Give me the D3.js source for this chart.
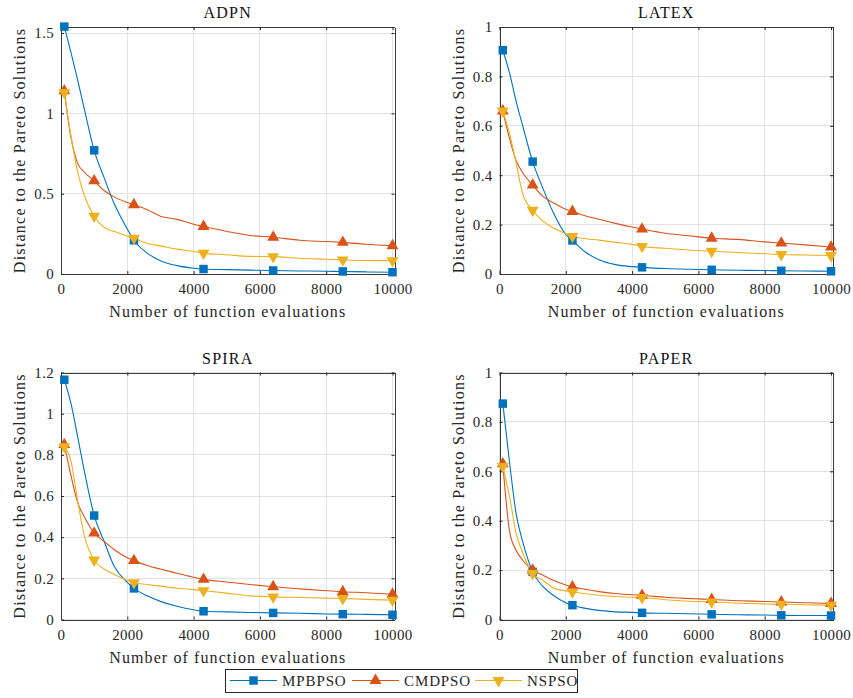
<!DOCTYPE html>
<html>
<head>
<meta charset="utf-8">
<script src="https://cdn.jsdelivr.net/npm/d3@7"></script>
<style>
  body { margin: 0; background: #fff; }
  svg text { font-family: "Liberation Serif", "DejaVu Serif", "Noto Serif", Tinos, "Times New Roman", Times, "Nimbus Roman", "Nimbus Roman No9 L", FreeSerif, "Latin Modern Roman", "CMU Serif", "STIX Two Text", Georgia, serif !important; fill: #262626; }
</style>
</head>
<body>
<div id="chart"></div>
<script>
// evaluation counts where the curves were read
const evals = [100, 300, 500, 700, 1000, 1300, 1600, 2000, 2200, 2600, 3000, 3500, 4000, 4300, 5000, 5700, 6400, 7200, 8000, 8500, 9200, 10000]
const markerEvals = [100, 1000, 2200, 4300, 6400, 8500, 10000]
const xTicks = [0, 2000, 4000, 6000, 8000, 10000]
const algorithms = ['MPBPSO', 'CMDPSO', 'NSPSO']
const colors = ['#0072BD', '#D95319', '#EDB120']

const adpnMPBPSO = [1.54, 1.38, 1.21, 1.03, 0.77, 0.6, 0.44, 0.28, 0.21, 0.13, 0.083, 0.052, 0.036, 0.031, 0.027, 0.024, 0.022, 0.019, 0.017, 0.016, 0.013, 0.011]
const adpnCMDPSO = [1.14, 0.85, 0.69, 0.635, 0.58, 0.52, 0.48, 0.445, 0.431, 0.40, 0.36, 0.34, 0.31, 0.296, 0.265, 0.24, 0.229, 0.21, 0.202, 0.197, 0.185, 0.176]
const adpnNSPSO = [1.13, 0.86, 0.64, 0.49, 0.36, 0.29, 0.265, 0.235, 0.223, 0.19, 0.175, 0.155, 0.14, 0.13, 0.12, 0.11, 0.108, 0.098, 0.092, 0.088, 0.084, 0.083]

const latexMPBPSO = [0.906, 0.815, 0.70, 0.60, 0.455, 0.35, 0.255, 0.16, 0.136, 0.088, 0.058, 0.038, 0.03, 0.027, 0.022, 0.019, 0.017, 0.015, 0.014, 0.013, 0.012, 0.011]
const latexCMDPSO = [0.66, 0.55, 0.46, 0.41, 0.36, 0.315, 0.29, 0.262, 0.253, 0.235, 0.222, 0.205, 0.19, 0.182, 0.165, 0.155, 0.145, 0.14, 0.13, 0.125, 0.118, 0.109]
const latexNSPSO = [0.66, 0.57, 0.45, 0.325, 0.258, 0.215, 0.188, 0.163, 0.152, 0.143, 0.137, 0.128, 0.12, 0.112, 0.104, 0.097, 0.092, 0.087, 0.082, 0.079, 0.077, 0.075]

const spiraMPBPSO = [1.165, 1.05, 0.89, 0.725, 0.505, 0.38, 0.26, 0.18, 0.151, 0.115, 0.088, 0.064, 0.047, 0.04, 0.037, 0.034, 0.032, 0.03, 0.027, 0.026, 0.025, 0.023]
const spiraCMDPSO = [0.85, 0.70, 0.57, 0.50, 0.42, 0.38, 0.34, 0.3, 0.286, 0.262, 0.245, 0.225, 0.205, 0.195, 0.182, 0.17, 0.159, 0.149, 0.14, 0.135, 0.13, 0.123]
const spiraNSPSO = [0.84, 0.77, 0.58, 0.41, 0.289, 0.245, 0.22, 0.19, 0.179, 0.17, 0.162, 0.152, 0.145, 0.14, 0.128, 0.115, 0.11, 0.107, 0.104, 0.102, 0.098, 0.094]

const paperMPBPSO = [0.874, 0.64, 0.43, 0.315, 0.193, 0.135, 0.1, 0.068, 0.058, 0.045, 0.037, 0.031, 0.029, 0.027, 0.025, 0.023, 0.021, 0.019, 0.018, 0.017, 0.016, 0.016]
const paperCMDPSO = [0.63, 0.36, 0.28, 0.24, 0.2, 0.18, 0.16, 0.14, 0.132, 0.122, 0.113, 0.105, 0.1, 0.098, 0.09, 0.085, 0.081, 0.076, 0.073, 0.071, 0.068, 0.065]
const paperNSPSO = [0.62, 0.5, 0.35, 0.27, 0.186, 0.16, 0.13, 0.116, 0.112, 0.104, 0.098, 0.093, 0.09, 0.089, 0.08, 0.074, 0.071, 0.066, 0.063, 0.062, 0.06, 0.058]

const panels = [
  {title: 'ADPN', yMax: 1.5375, yTicks: [0, 0.5, 1, 1.5], series: [adpnMPBPSO, adpnCMDPSO, adpnNSPSO], left: 61, top: 27},
  {title: 'LATEX', yMax: 1, yTicks: [0, 0.2, 0.4, 0.6, 0.8, 1], series: [latexMPBPSO, latexCMDPSO, latexNSPSO], left: 499.5, top: 27},
  {title: 'SPIRA', yMax: 1.2, yTicks: [0, 0.2, 0.4, 0.6, 0.8, 1, 1.2], series: [spiraMPBPSO, spiraCMDPSO, spiraNSPSO], left: 61, top: 372.5},
  {title: 'PAPER', yMax: 1, yTicks: [0, 0.2, 0.4, 0.6, 0.8, 1], series: [paperMPBPSO, paperCMDPSO, paperNSPSO], left: 499.5, top: 372.5}
]

const width = 333.5, height = 247

const svg = d3.select('#chart').append('svg')
  .attr('width', 853)
  .attr('height', 698)

function markerPath(k) {
  if (k == 0) return d3.symbol(d3.symbolSquare, 72)()
  return d3.symbol(d3.symbolTriangle, 62)()
}

panels.forEach(p => {
  let g = svg.append('g').attr('transform', 'translate(' + p.left + ',' + p.top + ')')

  let x = d3.scaleLinear().domain([0, 10060]).range([0, width])
  let y = d3.scaleLinear().domain([0, p.yMax]).range([height, 0])

  // grid
  g.append('g').selectAll('line').data(xTicks).enter().append('line')
    .attr('x1', d => x(d)).attr('x2', d => x(d))
    .attr('y1', 0).attr('y2', height)
    .attr('stroke', '#e3e3e3').attr('shape-rendering', 'crispEdges')
  g.append('g').selectAll('line').data(p.yTicks).enter().append('line')
    .attr('x1', 0).attr('x2', width)
    .attr('y1', d => y(d)).attr('y2', d => y(d))
    .attr('stroke', '#e3e3e3').attr('shape-rendering', 'crispEdges')

  // axes with inward ticks on all sides
  let fmt = d => d3.format('~g')(d)
  let bottom = g.append('g').attr('transform', 'translate(0,' + height + ')')
    .call(d3.axisBottom(x).tickValues(xTicks).tickSizeInner(-3).tickSizeOuter(0).tickPadding(9).tickFormat(d3.format('d')))
  let left = g.append('g')
    .call(d3.axisLeft(y).tickValues(p.yTicks).tickSizeInner(-3).tickSizeOuter(0).tickPadding(7).tickFormat(fmt))
  let top = g.append('g')
    .call(d3.axisTop(x).tickValues(xTicks).tickSizeInner(-3).tickSizeOuter(0).tickFormat(''))
  let right = g.append('g').attr('transform', 'translate(' + width + ',0)')
    .call(d3.axisRight(y).tickValues(p.yTicks).tickSizeInner(-3).tickSizeOuter(0).tickFormat(''))
  ;[bottom, left, top, right].forEach(a => {
    a.attr('font-family', null).attr('font-size', 15)
    a.selectAll('path').attr('stroke', '#3a3a3a').attr('shape-rendering', 'crispEdges')
    a.selectAll('line').attr('stroke', '#262626')
    a.selectAll('text').style('font-size', '15px').style('fill', '#262626').style('letter-spacing', '0.3px')
  })
  bottom.selectAll('text').attr('dy', '0.75em')

  // lines
  let line = d3.line().x((d, i) => x(evals[i])).y(d => y(d)).curve(d3.curveMonotoneX)
  p.series.forEach((vals, k) => {
    g.append('path').datum(vals)
      .attr('d', line)
      .attr('fill', 'none')
      .attr('stroke', colors[k])
      .attr('stroke-width', 1.1)
  })
  // markers
  p.series.forEach((vals, k) => {
    let pts = evals.map((e, i) => [e, vals[i]]).filter(d => markerEvals.includes(d[0]))
    g.append('g').selectAll('path').data(pts).enter().append('path')
      .attr('d', markerPath(k))
      .attr('transform', d => 'translate(' + x(d[0]) + ',' + y(d[1]) + ')' + (k == 2 ? ' rotate(180)' : ''))
      .attr('fill', colors[k])
  })

  // labels
  g.append('text')
    .attr('x', width / 2).attr('y', -9)
    .attr('text-anchor', 'middle')
    .style('font-size', '16px').style('letter-spacing', '1.2px')
    .style('fill', '#111')
    .text(p.title)
  g.append('text')
    .attr('x', width / 2).attr('y', height + 43)
    .attr('text-anchor', 'middle')
    .style('font-size', '16px').style('letter-spacing', '1.1px')
    .text('Number of function evaluations')
  g.append('text')
    .attr('transform', 'rotate(-90)')
    .attr('x', -height / 2).attr('y', -36)
    .attr('text-anchor', 'middle')
    .style('font-size', '16px').style('letter-spacing', '1.25px')
    .text('Distance to the Pareto Solutions')
})

// legend
let lg = svg.append('g').attr('transform', 'translate(225,669)')
lg.append('rect').attr('width', 352).attr('height', 23)
  .attr('fill', '#fff').attr('stroke', '#262626').attr('stroke-width', 1).attr('shape-rendering', 'crispEdges')
let legendX = [5, 127, 250]
algorithms.forEach((name, k) => {
  let item = lg.append('g').attr('transform', 'translate(' + legendX[k] + ',11.5)')
  item.append('line').attr('x1', 0).attr('x2', 47).attr('y1', 0).attr('y2', 0)
    .attr('stroke', colors[k]).attr('stroke-width', 1.1)
  item.append('path').attr('d', markerPath(k))
    .attr('transform', 'translate(23.5,0)' + (k == 2 ? ' rotate(180)' : ''))
    .attr('fill', colors[k])
  item.append('text').attr('x', 52).attr('y', 5.5)
    .style('font-size', '15px').style('letter-spacing', '0.9px')
    .text(name)
})
</script>
</body>
</html>
